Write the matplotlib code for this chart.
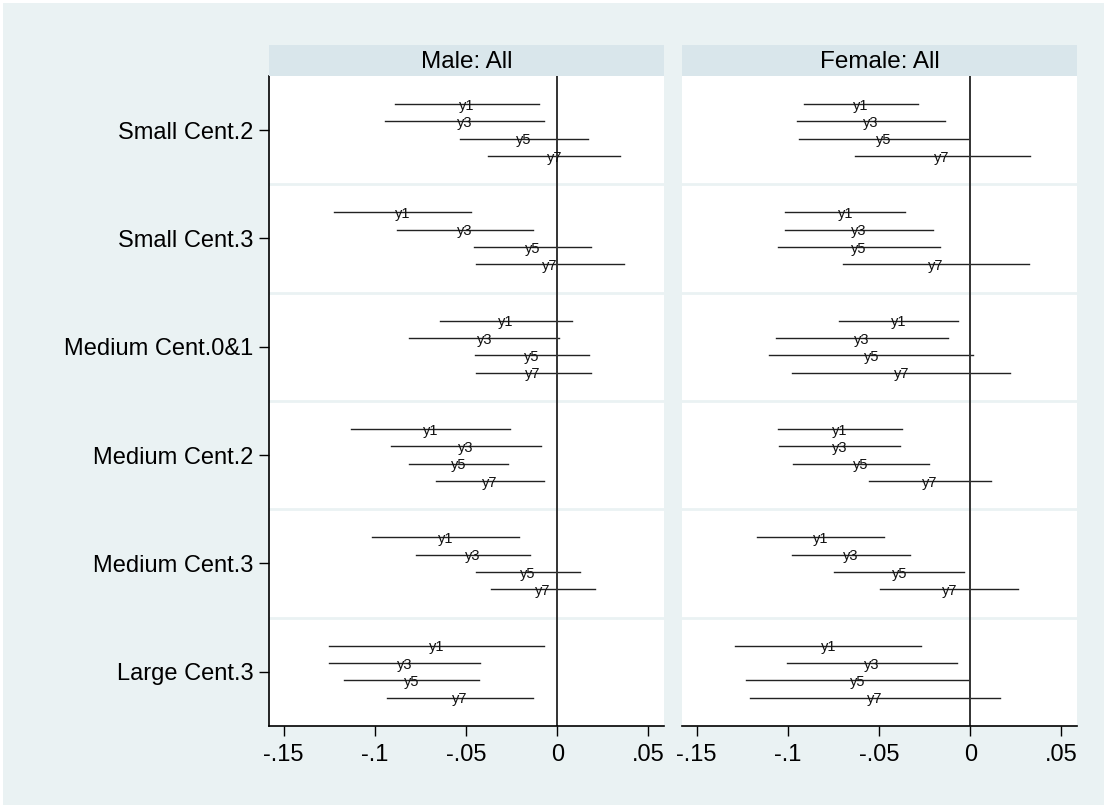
import matplotlib
matplotlib.use("Agg")
import matplotlib.pyplot as plt
from matplotlib.patches import Rectangle

plt.rcParams['font.family'] = ['Liberation Sans', 'DejaVu Sans']

# categories, top to bottom
groups = ["Small Cent.2", "Small Cent.3", "Medium Cent.0&1",
          "Medium Cent.2", "Medium Cent.3", "Large Cent.3"]
series = ["y1", "y3", "y5", "y7"]
panels = ["Male: All", "Female: All"]

# confidence interval bounds, one row per group, columns y1 y3 y5 y7
male_lo = [[-0.0887, -0.0942, -0.0531, -0.0378],
           [-0.1225, -0.0878, -0.0458, -0.0447],
           [-0.0644, -0.0810, -0.0453, -0.0447],
           [-0.1131, -0.0914, -0.0810, -0.0666],
           [-0.1015, -0.0776, -0.0447, -0.0365],
           [-0.1249, -0.1252, -0.1168, -0.0933]]
male_hi = [[-0.0102, -0.0071, 0.0168, 0.0345],
           [-0.0473, -0.0133, 0.0186, 0.0367],
           [0.0082, 0.0011, 0.0172, 0.0183],
           [-0.0259, -0.0088, -0.0268, -0.0075],
           [-0.0210, -0.0150, 0.0126, 0.0206],
           [-0.0073, -0.0422, -0.0429, -0.0133]]
female_lo = [[-0.0914, -0.0952, -0.0937, -0.0634],
             [-0.1013, -0.1018, -0.1055, -0.0698],
             [-0.0718, -0.1064, -0.1102, -0.0976],
             [-0.1055, -0.1047, -0.0970, -0.0557],
             [-0.1170, -0.0976, -0.0745, -0.0493],
             [-0.1287, -0.1002, -0.1227, -0.1207]]
female_hi = [[-0.0284, -0.0141, -0.0008, 0.0326],
             [-0.0355, -0.0202, -0.0165, 0.0320],
             [-0.0066, -0.0121, 0.0016, 0.0220],
             [-0.0375, -0.0386, -0.0227, 0.0111],
             [-0.0474, -0.0330, -0.0033, 0.0263],
             [-0.0269, -0.0074, -0.0008, 0.0161]]

xticks = [-0.15, -0.1, -0.05, 0, 0.05]
xtick_labels = ["-.15", "-.1", "-.05", "0", ".05"]

bg = "#eaf2f3"
strip_col = "#d9e6eb"
offsets = [-0.24, -0.08, 0.08, 0.24]

W, H = 1104, 805
fig = plt.figure(figsize=(W / 100, H / 100), dpi=100, facecolor="white")
fig.patches.append(Rectangle((3 / W, 0), 1, 1 - 3 / H, transform=fig.transFigure,
                             facecolor=bg, edgecolor="none", zorder=-10))

lefts = [269, 682]
data = [(male_lo, male_hi), (female_lo, female_hi)]
for k in range(2):
    x0 = lefts[k] / W
    w = 395 / W
    ax = fig.add_axes([x0, 1 - 726 / H, w, 650 / H])
    ax.set_facecolor("white")
    lo, hi = data[k]
    for i in range(len(groups)):
        for j in range(len(series)):
            y = i + 1 + offsets[j]
            ax.plot([lo[i][j], hi[i][j]], [y, y], color="#222222", lw=1.0)
            ax.text((lo[i][j] + hi[i][j]) / 2, y, series[j], ha="center",
                    va="center_baseline", fontsize=10.5, color="#111111")
    for b in [1.5, 2.5, 3.5, 4.5, 5.5]:
        ax.axhline(b, color=bg, lw=2, zorder=0)
    ax.axvline(0, color="#333333", lw=1.4)
    ax.set_xlim(-0.158, 0.0585)
    ax.set_ylim(6.5, 0.5)
    ax.set_xticks(xticks)
    ax.set_xticklabels(xtick_labels, fontsize=17)
    ax.tick_params(axis="x", length=7, width=1, pad=6)
    for s in ["top", "right"]:
        ax.spines[s].set_visible(False)
    ax.spines["bottom"].set_linewidth(1.2)
    if k == 0:
        ax.set_yticks(range(1, len(groups) + 1))
        ax.set_yticklabels(groups, fontsize=17)
        ax.tick_params(axis="y", length=7, width=1, pad=4)
        ax.spines["left"].set_linewidth(1.2)
    else:
        ax.set_yticks([])
        ax.spines["left"].set_visible(False)

    sax = fig.add_axes([x0, 1 - 76 / H, w, 31 / H])
    sax.set_facecolor(strip_col)
    sax.set_xticks([])
    sax.set_yticks([])
    for s in sax.spines.values():
        s.set_visible(False)
    sax.text(0.5, 0.45, panels[k], ha="center", va="center", fontsize=17.5,
             transform=sax.transAxes)

fig.savefig("out.png", dpi=100, facecolor=fig.get_facecolor())
